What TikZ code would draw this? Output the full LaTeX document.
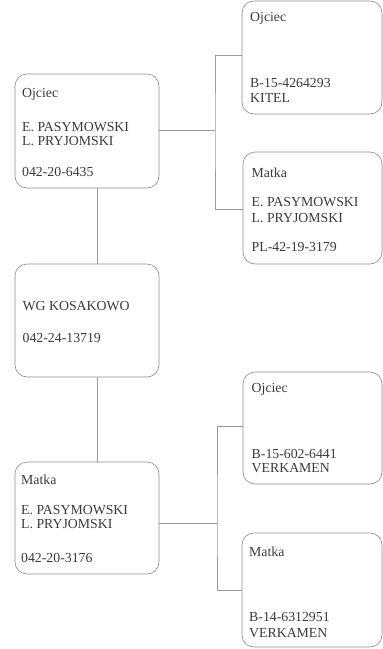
\documentclass[tikz,border=0pt]{standalone}
\usepackage{fontspec}
\setmainfont{Liberation Serif}
\definecolor{txt}{HTML}{3A3A3A}
\definecolor{edge}{HTML}{8A8A8A}
\definecolor{wire}{HTML}{9A9A9A}
\begin{document}
\begin{tikzpicture}[x=1pt,y=-1pt,
  box/.style={draw=edge,line width=0.6pt,rounded corners=12pt,rectangle,inner sep=0pt},
  lbl/.style={anchor=base west,inner sep=0pt,text=txt,font=\fontsize{13.8}{14}\selectfont},
  wirel/.style={draw=wire,line width=0.6pt}]
\useasboundingbox (0,0) rectangle (383,649);
% boxes
\node[box,minimum width=144pt,minimum height=114pt] (A) at (87,131) {};
\node[box,minimum width=140pt,minimum height=113pt] (B) at (312,57.5) {};
\node[box,minimum width=139pt,minimum height=112pt] (C) at (312.5,208) {};
\node[box,minimum width=144pt,minimum height=113pt] (D) at (87,320.5) {};
\node[box,minimum width=144pt,minimum height=112pt] (E) at (87,518) {};
\node[box,minimum width=139pt,minimum height=112pt] (F) at (312.5,428) {};
\node[box,minimum width=140pt,minimum height=114pt] (G) at (312,590) {};
% texts
\node[lbl] (a1) at (22,97.5) {Ojciec};
\node[lbl] (a2) at (22,131.5) {E. PASYMOWSKI};
\node[lbl] (a3) at (22,145.5) {L. PRYJOMSKI};
\node[lbl] (a4) at (22,176.5) {042-20-6435};
\node[lbl] (b1) at (250,21.5) {Ojciec};
\node[lbl] (b2) at (250,87.5) {B-15-4264293};
\node[lbl] (b3) at (250,102.5) {KITEL};
\node[lbl] (c1) at (251.5,177.5) {Matka};
\node[lbl] (c2) at (251.5,206.5) {E. PASYMOWSKI};
\node[lbl] (c3) at (251.5,222) {L. PRYJOMSKI};
\node[lbl] (c4) at (251.5,251.5) {PL-42-19-3179};
\node[lbl] (d1) at (22.5,310.5) {WG KOSAKOWO};
\node[lbl] (d2) at (22.5,342.5) {042-24-13719};
\node[lbl] (e1) at (21,484) {Matka};
\node[lbl] (e2) at (21,514.5) {E. PASYMOWSKI};
\node[lbl] (e3) at (21,528.5) {L. PRYJOMSKI};
\node[lbl] (e4) at (21,562.5) {042-20-3176};
\node[lbl] (f1) at (251.5,392.5) {Ojciec};
\node[lbl] (f2) at (251.5,458.5) {B-15-602-6441};
\node[lbl] (f3) at (251.5,472.5) {VERKAMEN};
\node[lbl] (g1) at (249,556) {Matka};
\node[lbl] (g2) at (249,621.5) {B-14-6312951};
\node[lbl] (g3) at (249,637.5) {VERKAMEN};
% connectors
\coordinate (j1) at (215,130);
\coordinate (j2) at (217,523);
\coordinate (v) at (97.5,0);
\draw[wirel] (A.east |- j1) -- (j1);
\draw[wirel] (B.west |- 0,55) -| (j1) |- (C.west |- 0,209);
\draw[wirel] (A.south -| v) -- (D.north -| v);
\draw[wirel] (D.south -| v) -- (E.north -| v);
\draw[wirel] (E.east |- j2) -- (j2);
\draw[wirel] (F.west |- 0,426) -| (j2) |- (G.west |- 0,590);
\end{tikzpicture}
\end{document}
